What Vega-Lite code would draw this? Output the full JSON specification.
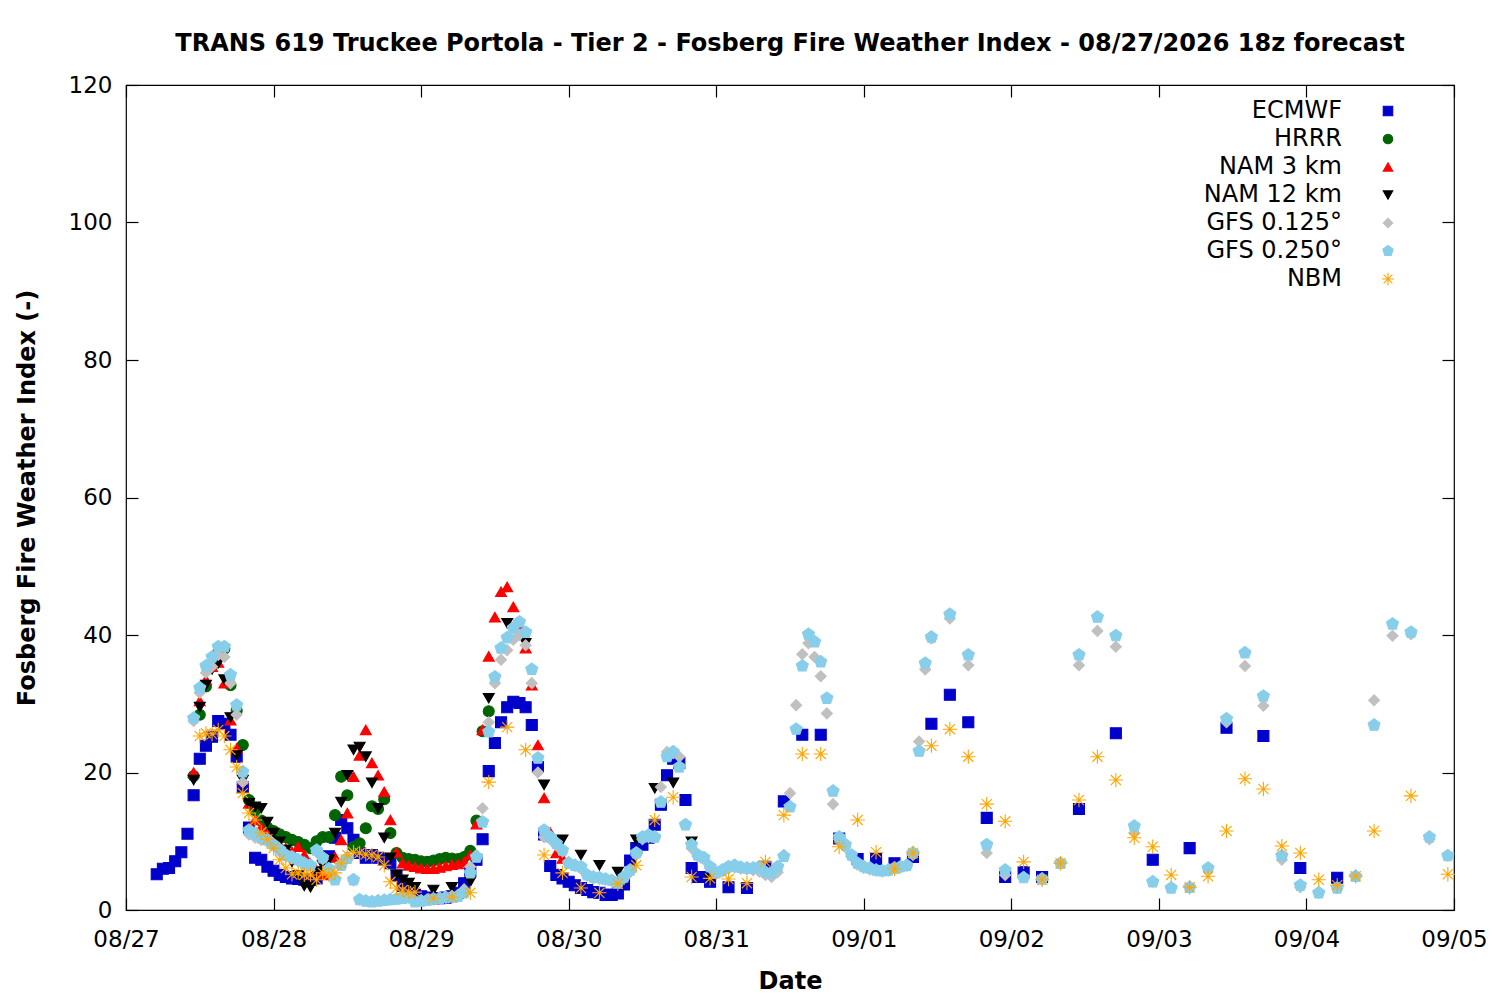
{
  "$schema": "https://vega.github.io/schema/vega-lite/v6.json",
  "autosize": "none",
  "padding": {"left": 126, "top": 85, "right": 46, "bottom": 90},
  "width": 1328,
  "height": 825,
  "background": "white",
  "title": {
    "text": "TRANS 619 Truckee Portola - Tier 2 - Fosberg Fire Weather Index - 08/27/2026 18z forecast",
    "fontSize": 24,
    "fontWeight": "bold",
    "color": "black",
    "offset": 18
  },
  "data": {
    "values": [
      {"model":"ECMWF","hour":5,"fwi":5.2},{"model":"ECMWF","hour":6,"fwi":6.0},{"model":"ECMWF","hour":7,"fwi":6.1},{"model":"ECMWF","hour":8,"fwi":7.1},
      {"model":"ECMWF","hour":9,"fwi":8.4},{"model":"ECMWF","hour":10,"fwi":11.1},{"model":"ECMWF","hour":11,"fwi":16.7},{"model":"ECMWF","hour":12,"fwi":22.0},
      {"model":"ECMWF","hour":13,"fwi":23.9},{"model":"ECMWF","hour":14,"fwi":25.2},{"model":"ECMWF","hour":15,"fwi":27.5},{"model":"ECMWF","hour":16,"fwi":27.1},
      {"model":"ECMWF","hour":17,"fwi":25.5},{"model":"ECMWF","hour":18,"fwi":22.3},{"model":"ECMWF","hour":19,"fwi":17.9},{"model":"ECMWF","hour":20,"fwi":12.0},
      {"model":"ECMWF","hour":21,"fwi":7.6},{"model":"ECMWF","hour":22,"fwi":7.3},{"model":"ECMWF","hour":23,"fwi":6.3},{"model":"ECMWF","hour":24,"fwi":5.7},
      {"model":"ECMWF","hour":25,"fwi":5.1},{"model":"ECMWF","hour":26,"fwi":4.8},{"model":"ECMWF","hour":27,"fwi":4.6},{"model":"ECMWF","hour":28,"fwi":4.5},
      {"model":"ECMWF","hour":29,"fwi":4.4},{"model":"ECMWF","hour":30,"fwi":4.4},{"model":"ECMWF","hour":31,"fwi":4.6},{"model":"ECMWF","hour":32,"fwi":5.5},
      {"model":"ECMWF","hour":33,"fwi":7.8},{"model":"ECMWF","hour":34,"fwi":10.5},{"model":"ECMWF","hour":35,"fwi":13.1},{"model":"ECMWF","hour":36,"fwi":11.9},
      {"model":"ECMWF","hour":37,"fwi":10.2},{"model":"ECMWF","hour":38,"fwi":8.3},{"model":"ECMWF","hour":39,"fwi":7.6},{"model":"ECMWF","hour":40,"fwi":8.0},
      {"model":"ECMWF","hour":41,"fwi":7.6},{"model":"ECMWF","hour":42,"fwi":7.3},{"model":"ECMWF","hour":43,"fwi":6.8},{"model":"ECMWF","hour":44,"fwi":5.0},
      {"model":"ECMWF","hour":45,"fwi":3.5},{"model":"ECMWF","hour":46,"fwi":2.5},{"model":"ECMWF","hour":47,"fwi":2.2},{"model":"ECMWF","hour":48,"fwi":2.0},
      {"model":"ECMWF","hour":49,"fwi":1.8},{"model":"ECMWF","hour":50,"fwi":1.7},{"model":"ECMWF","hour":51,"fwi":1.7},{"model":"ECMWF","hour":52,"fwi":1.8},
      {"model":"ECMWF","hour":53,"fwi":2.0},{"model":"ECMWF","hour":54,"fwi":2.5},{"model":"ECMWF","hour":55,"fwi":3.9},{"model":"ECMWF","hour":56,"fwi":5.8},
      {"model":"ECMWF","hour":57,"fwi":7.3},{"model":"ECMWF","hour":58,"fwi":10.3},{"model":"ECMWF","hour":59,"fwi":20.2},{"model":"ECMWF","hour":60,"fwi":24.3},
      {"model":"ECMWF","hour":61,"fwi":27.3},{"model":"ECMWF","hour":62,"fwi":29.5},{"model":"ECMWF","hour":63,"fwi":30.3},{"model":"ECMWF","hour":64,"fwi":30.1},
      {"model":"ECMWF","hour":65,"fwi":29.5},{"model":"ECMWF","hour":66,"fwi":26.9},{"model":"ECMWF","hour":67,"fwi":20.8},{"model":"ECMWF","hour":68,"fwi":11.0},
      {"model":"ECMWF","hour":69,"fwi":6.4},{"model":"ECMWF","hour":70,"fwi":5.1},{"model":"ECMWF","hour":71,"fwi":4.6},{"model":"ECMWF","hour":72,"fwi":4.1},
      {"model":"ECMWF","hour":73,"fwi":3.6},{"model":"ECMWF","hour":74,"fwi":3.2},{"model":"ECMWF","hour":75,"fwi":2.9},{"model":"ECMWF","hour":76,"fwi":2.6},
      {"model":"ECMWF","hour":77,"fwi":2.5},{"model":"ECMWF","hour":78,"fwi":2.2},{"model":"ECMWF","hour":79,"fwi":2.2},{"model":"ECMWF","hour":80,"fwi":2.4},
      {"model":"ECMWF","hour":81,"fwi":3.7},{"model":"ECMWF","hour":82,"fwi":7.2},{"model":"ECMWF","hour":83,"fwi":9.0},{"model":"ECMWF","hour":84,"fwi":9.5},
      {"model":"ECMWF","hour":85,"fwi":10.5},{"model":"ECMWF","hour":86,"fwi":12.4},{"model":"ECMWF","hour":87,"fwi":15.3},{"model":"ECMWF","hour":88,"fwi":19.6},
      {"model":"ECMWF","hour":89,"fwi":22.0},{"model":"ECMWF","hour":90,"fwi":21.4},{"model":"ECMWF","hour":91,"fwi":16.0},{"model":"ECMWF","hour":92,"fwi":6.1},
      {"model":"ECMWF","hour":93,"fwi":4.8},{"model":"ECMWF","hour":94,"fwi":4.8},{"model":"ECMWF","hour":95,"fwi":4.1},{"model":"ECMWF","hour":98,"fwi":3.3},
      {"model":"ECMWF","hour":101,"fwi":3.2},{"model":"ECMWF","hour":104,"fwi":6.3},{"model":"ECMWF","hour":107,"fwi":15.8},{"model":"ECMWF","hour":110,"fwi":25.5},
      {"model":"ECMWF","hour":113,"fwi":25.5},{"model":"ECMWF","hour":116,"fwi":10.4},{"model":"ECMWF","hour":119,"fwi":7.4},{"model":"ECMWF","hour":122,"fwi":7.4},
      {"model":"ECMWF","hour":125,"fwi":6.8},{"model":"ECMWF","hour":128,"fwi":7.7},{"model":"ECMWF","hour":131,"fwi":27.1},{"model":"ECMWF","hour":134,"fwi":31.3},
      {"model":"ECMWF","hour":137,"fwi":27.3},{"model":"ECMWF","hour":140,"fwi":13.4},{"model":"ECMWF","hour":143,"fwi":4.8},{"model":"ECMWF","hour":146,"fwi":5.5},
      {"model":"ECMWF","hour":149,"fwi":4.8},{"model":"ECMWF","hour":155,"fwi":14.7},{"model":"ECMWF","hour":161,"fwi":25.7},{"model":"ECMWF","hour":167,"fwi":7.3},
      {"model":"ECMWF","hour":173,"fwi":9.0},{"model":"ECMWF","hour":179,"fwi":26.5},{"model":"ECMWF","hour":185,"fwi":25.3},{"model":"ECMWF","hour":191,"fwi":6.1},
      {"model":"ECMWF","hour":197,"fwi":4.7},

      {"model":"HRRR","hour":11,"fwi":19.5},{"model":"HRRR","hour":12,"fwi":28.4},{"model":"HRRR","hour":13,"fwi":32.5},{"model":"HRRR","hour":14,"fwi":35.5},
      {"model":"HRRR","hour":15,"fwi":37.5},{"model":"HRRR","hour":16,"fwi":38.0},{"model":"HRRR","hour":17,"fwi":32.7},{"model":"HRRR","hour":18,"fwi":29.0},
      {"model":"HRRR","hour":19,"fwi":24.0},{"model":"HRRR","hour":20,"fwi":16.0},{"model":"HRRR","hour":21,"fwi":14.5},{"model":"HRRR","hour":22,"fwi":13.0},
      {"model":"HRRR","hour":23,"fwi":12.0},{"model":"HRRR","hour":24,"fwi":11.5},{"model":"HRRR","hour":25,"fwi":11.0},{"model":"HRRR","hour":26,"fwi":10.6},
      {"model":"HRRR","hour":27,"fwi":10.2},{"model":"HRRR","hour":28,"fwi":9.9},{"model":"HRRR","hour":29,"fwi":9.5},{"model":"HRRR","hour":30,"fwi":9.0},
      {"model":"HRRR","hour":31,"fwi":10.0},{"model":"HRRR","hour":32,"fwi":10.6},{"model":"HRRR","hour":33,"fwi":10.6},{"model":"HRRR","hour":34,"fwi":13.8},
      {"model":"HRRR","hour":35,"fwi":19.4},{"model":"HRRR","hour":36,"fwi":16.7},{"model":"HRRR","hour":37,"fwi":9.2},{"model":"HRRR","hour":38,"fwi":9.7},
      {"model":"HRRR","hour":39,"fwi":11.9},{"model":"HRRR","hour":40,"fwi":15.1},{"model":"HRRR","hour":41,"fwi":14.7},{"model":"HRRR","hour":42,"fwi":16.1},
      {"model":"HRRR","hour":43,"fwi":11.2},{"model":"HRRR","hour":44,"fwi":8.3},{"model":"HRRR","hour":45,"fwi":7.6},{"model":"HRRR","hour":46,"fwi":7.4},
      {"model":"HRRR","hour":47,"fwi":7.3},{"model":"HRRR","hour":48,"fwi":7.1},{"model":"HRRR","hour":49,"fwi":7.0},{"model":"HRRR","hour":50,"fwi":7.2},
      {"model":"HRRR","hour":51,"fwi":7.4},{"model":"HRRR","hour":52,"fwi":7.6},{"model":"HRRR","hour":53,"fwi":7.5},{"model":"HRRR","hour":54,"fwi":7.4},
      {"model":"HRRR","hour":55,"fwi":7.7},{"model":"HRRR","hour":56,"fwi":8.6},{"model":"HRRR","hour":57,"fwi":13.0},{"model":"HRRR","hour":58,"fwi":26.0},
      {"model":"HRRR","hour":59,"fwi":28.9},

      {"model":"NAM 3 km","hour":11,"fwi":20.0},{"model":"NAM 3 km","hour":12,"fwi":30.4},{"model":"NAM 3 km","hour":13,"fwi":33.5},{"model":"NAM 3 km","hour":14,"fwi":35.4},
      {"model":"NAM 3 km","hour":15,"fwi":36.0},{"model":"NAM 3 km","hour":16,"fwi":33.0},{"model":"NAM 3 km","hour":17,"fwi":27.6},{"model":"NAM 3 km","hour":18,"fwi":23.5},
      {"model":"NAM 3 km","hour":19,"fwi":19.0},{"model":"NAM 3 km","hour":20,"fwi":15.5},{"model":"NAM 3 km","hour":21,"fwi":13.1},{"model":"NAM 3 km","hour":22,"fwi":12.0},
      {"model":"NAM 3 km","hour":23,"fwi":11.0},{"model":"NAM 3 km","hour":24,"fwi":10.0},{"model":"NAM 3 km","hour":25,"fwi":9.5},{"model":"NAM 3 km","hour":26,"fwi":9.0},
      {"model":"NAM 3 km","hour":27,"fwi":8.5},{"model":"NAM 3 km","hour":28,"fwi":9.2},{"model":"NAM 3 km","hour":29,"fwi":8.0},{"model":"NAM 3 km","hour":30,"fwi":6.8},
      {"model":"NAM 3 km","hour":31,"fwi":5.8},{"model":"NAM 3 km","hour":32,"fwi":5.3},{"model":"NAM 3 km","hour":33,"fwi":5.1},{"model":"NAM 3 km","hour":34,"fwi":7.7},
      {"model":"NAM 3 km","hour":35,"fwi":10.2},{"model":"NAM 3 km","hour":36,"fwi":14.1},{"model":"NAM 3 km","hour":37,"fwi":19.4},{"model":"NAM 3 km","hour":38,"fwi":22.5},
      {"model":"NAM 3 km","hour":39,"fwi":26.2},{"model":"NAM 3 km","hour":40,"fwi":21.4},{"model":"NAM 3 km","hour":41,"fwi":19.6},{"model":"NAM 3 km","hour":42,"fwi":17.2},
      {"model":"NAM 3 km","hour":43,"fwi":13.1},{"model":"NAM 3 km","hour":44,"fwi":8.4},{"model":"NAM 3 km","hour":45,"fwi":6.8},{"model":"NAM 3 km","hour":46,"fwi":6.5},
      {"model":"NAM 3 km","hour":47,"fwi":6.3},{"model":"NAM 3 km","hour":48,"fwi":6.1},{"model":"NAM 3 km","hour":49,"fwi":6.0},{"model":"NAM 3 km","hour":50,"fwi":6.0},
      {"model":"NAM 3 km","hour":51,"fwi":6.2},{"model":"NAM 3 km","hour":52,"fwi":6.4},{"model":"NAM 3 km","hour":53,"fwi":6.6},{"model":"NAM 3 km","hour":54,"fwi":6.7},
      {"model":"NAM 3 km","hour":55,"fwi":7.0},{"model":"NAM 3 km","hour":56,"fwi":8.0},{"model":"NAM 3 km","hour":57,"fwi":12.5},{"model":"NAM 3 km","hour":58,"fwi":26.2},
      {"model":"NAM 3 km","hour":59,"fwi":36.9},{"model":"NAM 3 km","hour":60,"fwi":42.6},{"model":"NAM 3 km","hour":61,"fwi":46.3},{"model":"NAM 3 km","hour":62,"fwi":47.0},
      {"model":"NAM 3 km","hour":63,"fwi":44.1},{"model":"NAM 3 km","hour":64,"fwi":41.2},{"model":"NAM 3 km","hour":65,"fwi":38.1},{"model":"NAM 3 km","hour":66,"fwi":32.7},
      {"model":"NAM 3 km","hour":67,"fwi":24.0},{"model":"NAM 3 km","hour":68,"fwi":16.3},{"model":"NAM 3 km","hour":69,"fwi":11.3},{"model":"NAM 3 km","hour":70,"fwi":8.3},
      {"model":"NAM 3 km","hour":71,"fwi":7.5},

      {"model":"NAM 12 km","hour":11,"fwi":18.9},{"model":"NAM 12 km","hour":12,"fwi":29.5},{"model":"NAM 12 km","hour":13,"fwi":32.7},{"model":"NAM 12 km","hour":14,"fwi":35.0},
      {"model":"NAM 12 km","hour":15,"fwi":35.9},{"model":"NAM 12 km","hour":16,"fwi":33.5},{"model":"NAM 12 km","hour":17,"fwi":28.0},{"model":"NAM 12 km","hour":18,"fwi":22.5},
      {"model":"NAM 12 km","hour":19,"fwi":18.9},{"model":"NAM 12 km","hour":20,"fwi":15.5},{"model":"NAM 12 km","hour":21,"fwi":15.0},{"model":"NAM 12 km","hour":22,"fwi":14.8},
      {"model":"NAM 12 km","hour":23,"fwi":12.8},{"model":"NAM 12 km","hour":24,"fwi":11.2},{"model":"NAM 12 km","hour":25,"fwi":9.9},{"model":"NAM 12 km","hour":26,"fwi":8.7},
      {"model":"NAM 12 km","hour":27,"fwi":7.0},{"model":"NAM 12 km","hour":28,"fwi":5.0},{"model":"NAM 12 km","hour":29,"fwi":3.5},{"model":"NAM 12 km","hour":30,"fwi":3.3},
      {"model":"NAM 12 km","hour":31,"fwi":5.5},{"model":"NAM 12 km","hour":32,"fwi":6.5},{"model":"NAM 12 km","hour":33,"fwi":7.3},{"model":"NAM 12 km","hour":34,"fwi":11.2},
      {"model":"NAM 12 km","hour":35,"fwi":15.7},{"model":"NAM 12 km","hour":36,"fwi":19.6},{"model":"NAM 12 km","hour":37,"fwi":23.3},{"model":"NAM 12 km","hour":38,"fwi":23.7},
      {"model":"NAM 12 km","hour":39,"fwi":22.3},{"model":"NAM 12 km","hour":40,"fwi":18.5},{"model":"NAM 12 km","hour":41,"fwi":14.8},{"model":"NAM 12 km","hour":42,"fwi":10.5},
      {"model":"NAM 12 km","hour":43,"fwi":7.6},{"model":"NAM 12 km","hour":44,"fwi":5.1},{"model":"NAM 12 km","hour":45,"fwi":4.4},{"model":"NAM 12 km","hour":46,"fwi":3.9},
      {"model":"NAM 12 km","hour":47,"fwi":3.3},{"model":"NAM 12 km","hour":50,"fwi":2.9},{"model":"NAM 12 km","hour":53,"fwi":3.3},{"model":"NAM 12 km","hour":56,"fwi":4.1},
      {"model":"NAM 12 km","hour":59,"fwi":30.8},{"model":"NAM 12 km","hour":62,"fwi":41.7},{"model":"NAM 12 km","hour":65,"fwi":38.8},{"model":"NAM 12 km","hour":68,"fwi":18.2},
      {"model":"NAM 12 km","hour":71,"fwi":10.2},{"model":"NAM 12 km","hour":74,"fwi":8.0},{"model":"NAM 12 km","hour":77,"fwi":6.5},{"model":"NAM 12 km","hour":80,"fwi":5.5},
      {"model":"NAM 12 km","hour":83,"fwi":10.2},{"model":"NAM 12 km","hour":86,"fwi":17.7},{"model":"NAM 12 km","hour":89,"fwi":18.5},{"model":"NAM 12 km","hour":92,"fwi":9.9},
      {"model":"NAM 12 km","hour":95,"fwi":4.5},

      {"model":"GFS 0.125°","hour":11,"fwi":27.5},{"model":"GFS 0.125°","hour":12,"fwi":31.6},{"model":"GFS 0.125°","hour":13,"fwi":34.5},{"model":"GFS 0.125°","hour":14,"fwi":35.4},
      {"model":"GFS 0.125°","hour":15,"fwi":37.1},{"model":"GFS 0.125°","hour":16,"fwi":36.8},{"model":"GFS 0.125°","hour":17,"fwi":33.0},{"model":"GFS 0.125°","hour":18,"fwi":28.4},
      {"model":"GFS 0.125°","hour":19,"fwi":18.6},{"model":"GFS 0.125°","hour":20,"fwi":11.0},{"model":"GFS 0.125°","hour":21,"fwi":10.5},{"model":"GFS 0.125°","hour":22,"fwi":10.2},
      {"model":"GFS 0.125°","hour":23,"fwi":9.9},{"model":"GFS 0.125°","hour":24,"fwi":9.3},{"model":"GFS 0.125°","hour":25,"fwi":8.5},{"model":"GFS 0.125°","hour":26,"fwi":7.8},
      {"model":"GFS 0.125°","hour":27,"fwi":7.5},{"model":"GFS 0.125°","hour":28,"fwi":7.1},{"model":"GFS 0.125°","hour":29,"fwi":6.6},{"model":"GFS 0.125°","hour":30,"fwi":6.4},
      {"model":"GFS 0.125°","hour":31,"fwi":8.4},{"model":"GFS 0.125°","hour":32,"fwi":7.4},{"model":"GFS 0.125°","hour":33,"fwi":5.9},{"model":"GFS 0.125°","hour":34,"fwi":4.5},
      {"model":"GFS 0.125°","hour":35,"fwi":6.8},{"model":"GFS 0.125°","hour":36,"fwi":7.7},{"model":"GFS 0.125°","hour":37,"fwi":4.3},{"model":"GFS 0.125°","hour":38,"fwi":1.5},
      {"model":"GFS 0.125°","hour":39,"fwi":1.3},{"model":"GFS 0.125°","hour":40,"fwi":1.3},{"model":"GFS 0.125°","hour":41,"fwi":1.4},{"model":"GFS 0.125°","hour":42,"fwi":1.5},
      {"model":"GFS 0.125°","hour":43,"fwi":1.5},{"model":"GFS 0.125°","hour":44,"fwi":1.6},{"model":"GFS 0.125°","hour":45,"fwi":1.7},{"model":"GFS 0.125°","hour":46,"fwi":1.8},
      {"model":"GFS 0.125°","hour":47,"fwi":1.3},{"model":"GFS 0.125°","hour":48,"fwi":1.4},{"model":"GFS 0.125°","hour":49,"fwi":1.5},{"model":"GFS 0.125°","hour":50,"fwi":1.6},
      {"model":"GFS 0.125°","hour":51,"fwi":1.7},{"model":"GFS 0.125°","hour":52,"fwi":1.8},{"model":"GFS 0.125°","hour":53,"fwi":2.0},{"model":"GFS 0.125°","hour":54,"fwi":2.2},
      {"model":"GFS 0.125°","hour":55,"fwi":3.0},{"model":"GFS 0.125°","hour":56,"fwi":6.3},{"model":"GFS 0.125°","hour":57,"fwi":8.0},{"model":"GFS 0.125°","hour":58,"fwi":14.8},
      {"model":"GFS 0.125°","hour":59,"fwi":27.3},{"model":"GFS 0.125°","hour":60,"fwi":33.0},{"model":"GFS 0.125°","hour":61,"fwi":36.4},{"model":"GFS 0.125°","hour":62,"fwi":37.8},
      {"model":"GFS 0.125°","hour":63,"fwi":39.3},{"model":"GFS 0.125°","hour":64,"fwi":40.0},{"model":"GFS 0.125°","hour":65,"fwi":38.5},{"model":"GFS 0.125°","hour":66,"fwi":33.0},
      {"model":"GFS 0.125°","hour":67,"fwi":20.0},{"model":"GFS 0.125°","hour":68,"fwi":10.6},{"model":"GFS 0.125°","hour":69,"fwi":10.3},{"model":"GFS 0.125°","hour":70,"fwi":9.4},
      {"model":"GFS 0.125°","hour":71,"fwi":8.5},{"model":"GFS 0.125°","hour":72,"fwi":7.0},{"model":"GFS 0.125°","hour":73,"fwi":6.4},{"model":"GFS 0.125°","hour":74,"fwi":6.0},
      {"model":"GFS 0.125°","hour":75,"fwi":5.0},{"model":"GFS 0.125°","hour":76,"fwi":4.6},{"model":"GFS 0.125°","hour":77,"fwi":4.5},{"model":"GFS 0.125°","hour":78,"fwi":4.4},
      {"model":"GFS 0.125°","hour":79,"fwi":4.2},{"model":"GFS 0.125°","hour":80,"fwi":4.0},{"model":"GFS 0.125°","hour":81,"fwi":4.6},{"model":"GFS 0.125°","hour":82,"fwi":5.5},
      {"model":"GFS 0.125°","hour":83,"fwi":8.0},{"model":"GFS 0.125°","hour":84,"fwi":10.3},{"model":"GFS 0.125°","hour":85,"fwi":10.6},{"model":"GFS 0.125°","hour":86,"fwi":10.5},
      {"model":"GFS 0.125°","hour":87,"fwi":17.9},{"model":"GFS 0.125°","hour":88,"fwi":23.0},{"model":"GFS 0.125°","hour":89,"fwi":22.8},{"model":"GFS 0.125°","hour":90,"fwi":22.3},
      {"model":"GFS 0.125°","hour":91,"fwi":12.4},{"model":"GFS 0.125°","hour":92,"fwi":9.0},{"model":"GFS 0.125°","hour":93,"fwi":7.8},{"model":"GFS 0.125°","hour":94,"fwi":7.4},
      {"model":"GFS 0.125°","hour":95,"fwi":6.1},{"model":"GFS 0.125°","hour":96,"fwi":5.3},{"model":"GFS 0.125°","hour":97,"fwi":5.6},{"model":"GFS 0.125°","hour":98,"fwi":6.0},
      {"model":"GFS 0.125°","hour":99,"fwi":6.2},{"model":"GFS 0.125°","hour":100,"fwi":6.0},{"model":"GFS 0.125°","hour":101,"fwi":5.9},{"model":"GFS 0.125°","hour":102,"fwi":5.8},
      {"model":"GFS 0.125°","hour":103,"fwi":5.6},{"model":"GFS 0.125°","hour":104,"fwi":5.1},{"model":"GFS 0.125°","hour":105,"fwi":4.8},{"model":"GFS 0.125°","hour":106,"fwi":5.5},
      {"model":"GFS 0.125°","hour":107,"fwi":8.0},{"model":"GFS 0.125°","hour":108,"fwi":17.0},{"model":"GFS 0.125°","hour":109,"fwi":29.8},{"model":"GFS 0.125°","hour":110,"fwi":37.2},
      {"model":"GFS 0.125°","hour":111,"fwi":38.8},{"model":"GFS 0.125°","hour":112,"fwi":36.8},{"model":"GFS 0.125°","hour":113,"fwi":34.0},{"model":"GFS 0.125°","hour":114,"fwi":28.6},
      {"model":"GFS 0.125°","hour":115,"fwi":15.4},{"model":"GFS 0.125°","hour":116,"fwi":10.3},{"model":"GFS 0.125°","hour":117,"fwi":9.2},{"model":"GFS 0.125°","hour":118,"fwi":7.8},
      {"model":"GFS 0.125°","hour":119,"fwi":6.6},{"model":"GFS 0.125°","hour":120,"fwi":6.1},{"model":"GFS 0.125°","hour":121,"fwi":5.9},{"model":"GFS 0.125°","hour":122,"fwi":5.7},
      {"model":"GFS 0.125°","hour":123,"fwi":5.6},{"model":"GFS 0.125°","hour":124,"fwi":5.7},{"model":"GFS 0.125°","hour":125,"fwi":6.0},{"model":"GFS 0.125°","hour":126,"fwi":6.2},
      {"model":"GFS 0.125°","hour":127,"fwi":6.4},{"model":"GFS 0.125°","hour":128,"fwi":8.0},{"model":"GFS 0.125°","hour":129,"fwi":24.5},{"model":"GFS 0.125°","hour":130,"fwi":35.0},
      {"model":"GFS 0.125°","hour":131,"fwi":39.5},{"model":"GFS 0.125°","hour":134,"fwi":42.4},{"model":"GFS 0.125°","hour":137,"fwi":35.6},{"model":"GFS 0.125°","hour":140,"fwi":8.3},
      {"model":"GFS 0.125°","hour":143,"fwi":5.1},{"model":"GFS 0.125°","hour":146,"fwi":4.8},{"model":"GFS 0.125°","hour":149,"fwi":4.4},{"model":"GFS 0.125°","hour":152,"fwi":6.8},
      {"model":"GFS 0.125°","hour":155,"fwi":35.6},{"model":"GFS 0.125°","hour":158,"fwi":40.6},{"model":"GFS 0.125°","hour":161,"fwi":38.3},{"model":"GFS 0.125°","hour":164,"fwi":11.2},
      {"model":"GFS 0.125°","hour":167,"fwi":4.1},{"model":"GFS 0.125°","hour":170,"fwi":3.2},{"model":"GFS 0.125°","hour":173,"fwi":3.2},{"model":"GFS 0.125°","hour":176,"fwi":6.1},
      {"model":"GFS 0.125°","hour":179,"fwi":27.3},{"model":"GFS 0.125°","hour":182,"fwi":35.5},{"model":"GFS 0.125°","hour":185,"fwi":29.7},{"model":"GFS 0.125°","hour":188,"fwi":7.3},
      {"model":"GFS 0.125°","hour":191,"fwi":3.3},{"model":"GFS 0.125°","hour":194,"fwi":2.5},{"model":"GFS 0.125°","hour":197,"fwi":3.2},{"model":"GFS 0.125°","hour":200,"fwi":4.9},
      {"model":"GFS 0.125°","hour":203,"fwi":30.5},{"model":"GFS 0.125°","hour":206,"fwi":39.9},{"model":"GFS 0.125°","hour":209,"fwi":40.1},{"model":"GFS 0.125°","hour":212,"fwi":10.3},
      {"model":"GFS 0.125°","hour":215,"fwi":7.9},

      {"model":"GFS 0.250°","hour":11,"fwi":27.9},{"model":"GFS 0.250°","hour":12,"fwi":32.3},{"model":"GFS 0.250°","hour":13,"fwi":35.5},{"model":"GFS 0.250°","hour":14,"fwi":36.8},
      {"model":"GFS 0.250°","hour":15,"fwi":38.3},{"model":"GFS 0.250°","hour":16,"fwi":38.3},{"model":"GFS 0.250°","hour":17,"fwi":34.2},{"model":"GFS 0.250°","hour":18,"fwi":29.8},
      {"model":"GFS 0.250°","hour":19,"fwi":20.1},{"model":"GFS 0.250°","hour":20,"fwi":11.6},{"model":"GFS 0.250°","hour":21,"fwi":11.0},{"model":"GFS 0.250°","hour":22,"fwi":10.5},
      {"model":"GFS 0.250°","hour":23,"fwi":10.2},{"model":"GFS 0.250°","hour":24,"fwi":9.5},{"model":"GFS 0.250°","hour":25,"fwi":8.8},{"model":"GFS 0.250°","hour":26,"fwi":8.0},
      {"model":"GFS 0.250°","hour":27,"fwi":7.7},{"model":"GFS 0.250°","hour":28,"fwi":7.3},{"model":"GFS 0.250°","hour":29,"fwi":6.8},{"model":"GFS 0.250°","hour":30,"fwi":6.5},
      {"model":"GFS 0.250°","hour":31,"fwi":8.7},{"model":"GFS 0.250°","hour":32,"fwi":7.6},{"model":"GFS 0.250°","hour":33,"fwi":6.0},{"model":"GFS 0.250°","hour":34,"fwi":4.4},
      {"model":"GFS 0.250°","hour":35,"fwi":6.5},{"model":"GFS 0.250°","hour":36,"fwi":7.5},{"model":"GFS 0.250°","hour":37,"fwi":4.4},{"model":"GFS 0.250°","hour":38,"fwi":1.5},
      {"model":"GFS 0.250°","hour":39,"fwi":1.3},{"model":"GFS 0.250°","hour":40,"fwi":1.2},{"model":"GFS 0.250°","hour":41,"fwi":1.3},{"model":"GFS 0.250°","hour":42,"fwi":1.4},
      {"model":"GFS 0.250°","hour":43,"fwi":1.5},{"model":"GFS 0.250°","hour":44,"fwi":1.6},{"model":"GFS 0.250°","hour":45,"fwi":1.7},{"model":"GFS 0.250°","hour":46,"fwi":1.8},
      {"model":"GFS 0.250°","hour":47,"fwi":1.2},{"model":"GFS 0.250°","hour":48,"fwi":1.3},{"model":"GFS 0.250°","hour":49,"fwi":1.4},{"model":"GFS 0.250°","hour":50,"fwi":1.6},
      {"model":"GFS 0.250°","hour":51,"fwi":1.7},{"model":"GFS 0.250°","hour":52,"fwi":1.8},{"model":"GFS 0.250°","hour":53,"fwi":1.9},{"model":"GFS 0.250°","hour":54,"fwi":2.0},
      {"model":"GFS 0.250°","hour":55,"fwi":2.5},{"model":"GFS 0.250°","hour":56,"fwi":5.4},{"model":"GFS 0.250°","hour":57,"fwi":7.7},{"model":"GFS 0.250°","hour":58,"fwi":12.8},
      {"model":"GFS 0.250°","hour":59,"fwi":25.9},{"model":"GFS 0.250°","hour":60,"fwi":33.9},{"model":"GFS 0.250°","hour":61,"fwi":38.1},{"model":"GFS 0.250°","hour":62,"fwi":39.6},
      {"model":"GFS 0.250°","hour":63,"fwi":41.0},{"model":"GFS 0.250°","hour":64,"fwi":41.9},{"model":"GFS 0.250°","hour":65,"fwi":40.4},{"model":"GFS 0.250°","hour":66,"fwi":35.0},
      {"model":"GFS 0.250°","hour":67,"fwi":22.1},{"model":"GFS 0.250°","hour":68,"fwi":11.6},{"model":"GFS 0.250°","hour":69,"fwi":10.6},{"model":"GFS 0.250°","hour":70,"fwi":9.7},
      {"model":"GFS 0.250°","hour":71,"fwi":8.7},{"model":"GFS 0.250°","hour":72,"fwi":6.8},{"model":"GFS 0.250°","hour":73,"fwi":6.5},{"model":"GFS 0.250°","hour":74,"fwi":6.3},
      {"model":"GFS 0.250°","hour":75,"fwi":5.1},{"model":"GFS 0.250°","hour":76,"fwi":4.8},{"model":"GFS 0.250°","hour":77,"fwi":4.7},{"model":"GFS 0.250°","hour":78,"fwi":4.5},
      {"model":"GFS 0.250°","hour":79,"fwi":4.3},{"model":"GFS 0.250°","hour":80,"fwi":3.9},{"model":"GFS 0.250°","hour":81,"fwi":4.8},{"model":"GFS 0.250°","hour":82,"fwi":5.8},
      {"model":"GFS 0.250°","hour":83,"fwi":8.3},{"model":"GFS 0.250°","hour":84,"fwi":10.6},{"model":"GFS 0.250°","hour":85,"fwi":10.9},{"model":"GFS 0.250°","hour":86,"fwi":10.6},
      {"model":"GFS 0.250°","hour":87,"fwi":15.7},{"model":"GFS 0.250°","hour":88,"fwi":22.3},{"model":"GFS 0.250°","hour":89,"fwi":23.0},{"model":"GFS 0.250°","hour":90,"fwi":20.8},
      {"model":"GFS 0.250°","hour":91,"fwi":12.4},{"model":"GFS 0.250°","hour":92,"fwi":9.5},{"model":"GFS 0.250°","hour":93,"fwi":8.0},{"model":"GFS 0.250°","hour":94,"fwi":7.6},
      {"model":"GFS 0.250°","hour":95,"fwi":6.3},{"model":"GFS 0.250°","hour":96,"fwi":5.4},{"model":"GFS 0.250°","hour":97,"fwi":5.8},{"model":"GFS 0.250°","hour":98,"fwi":6.3},
      {"model":"GFS 0.250°","hour":99,"fwi":6.5},{"model":"GFS 0.250°","hour":100,"fwi":6.2},{"model":"GFS 0.250°","hour":101,"fwi":6.1},{"model":"GFS 0.250°","hour":102,"fwi":6.1},
      {"model":"GFS 0.250°","hour":103,"fwi":6.3},{"model":"GFS 0.250°","hour":104,"fwi":5.5},{"model":"GFS 0.250°","hour":105,"fwi":5.4},{"model":"GFS 0.250°","hour":106,"fwi":6.3},
      {"model":"GFS 0.250°","hour":107,"fwi":7.8},{"model":"GFS 0.250°","hour":108,"fwi":15.0},{"model":"GFS 0.250°","hour":109,"fwi":26.3},{"model":"GFS 0.250°","hour":110,"fwi":35.5},
      {"model":"GFS 0.250°","hour":111,"fwi":40.1},{"model":"GFS 0.250°","hour":112,"fwi":39.0},{"model":"GFS 0.250°","hour":113,"fwi":36.1},{"model":"GFS 0.250°","hour":114,"fwi":30.8},
      {"model":"GFS 0.250°","hour":115,"fwi":17.3},{"model":"GFS 0.250°","hour":116,"fwi":10.6},{"model":"GFS 0.250°","hour":117,"fwi":9.5},{"model":"GFS 0.250°","hour":118,"fwi":8.0},
      {"model":"GFS 0.250°","hour":119,"fwi":6.8},{"model":"GFS 0.250°","hour":120,"fwi":6.3},{"model":"GFS 0.250°","hour":121,"fwi":6.1},{"model":"GFS 0.250°","hour":122,"fwi":5.8},
      {"model":"GFS 0.250°","hour":123,"fwi":5.7},{"model":"GFS 0.250°","hour":124,"fwi":5.8},{"model":"GFS 0.250°","hour":125,"fwi":6.1},{"model":"GFS 0.250°","hour":126,"fwi":6.3},
      {"model":"GFS 0.250°","hour":127,"fwi":6.5},{"model":"GFS 0.250°","hour":128,"fwi":8.3},{"model":"GFS 0.250°","hour":129,"fwi":23.1},{"model":"GFS 0.250°","hour":130,"fwi":35.9},
      {"model":"GFS 0.250°","hour":131,"fwi":39.7},{"model":"GFS 0.250°","hour":134,"fwi":43.0},{"model":"GFS 0.250°","hour":137,"fwi":37.1},{"model":"GFS 0.250°","hour":140,"fwi":9.5},
      {"model":"GFS 0.250°","hour":143,"fwi":5.8},{"model":"GFS 0.250°","hour":146,"fwi":4.7},{"model":"GFS 0.250°","hour":149,"fwi":4.5},{"model":"GFS 0.250°","hour":152,"fwi":6.8},
      {"model":"GFS 0.250°","hour":155,"fwi":37.1},{"model":"GFS 0.250°","hour":158,"fwi":42.6},{"model":"GFS 0.250°","hour":161,"fwi":39.9},{"model":"GFS 0.250°","hour":164,"fwi":12.2},
      {"model":"GFS 0.250°","hour":167,"fwi":4.1},{"model":"GFS 0.250°","hour":170,"fwi":3.2},{"model":"GFS 0.250°","hour":173,"fwi":3.3},{"model":"GFS 0.250°","hour":176,"fwi":6.1},
      {"model":"GFS 0.250°","hour":179,"fwi":27.8},{"model":"GFS 0.250°","hour":182,"fwi":37.4},{"model":"GFS 0.250°","hour":185,"fwi":31.1},{"model":"GFS 0.250°","hour":188,"fwi":7.9},
      {"model":"GFS 0.250°","hour":191,"fwi":3.6},{"model":"GFS 0.250°","hour":194,"fwi":2.5},{"model":"GFS 0.250°","hour":197,"fwi":3.2},{"model":"GFS 0.250°","hour":200,"fwi":4.9},
      {"model":"GFS 0.250°","hour":203,"fwi":26.9},{"model":"GFS 0.250°","hour":206,"fwi":41.6},{"model":"GFS 0.250°","hour":209,"fwi":40.4},{"model":"GFS 0.250°","hour":212,"fwi":10.6},
      {"model":"GFS 0.250°","hour":215,"fwi":7.9},

      {"model":"NBM","hour":12,"fwi":25.3},{"model":"NBM","hour":13,"fwi":25.7},{"model":"NBM","hour":14,"fwi":25.6},{"model":"NBM","hour":15,"fwi":26.2},
      {"model":"NBM","hour":16,"fwi":25.3},{"model":"NBM","hour":17,"fwi":23.3},{"model":"NBM","hour":18,"fwi":20.8},{"model":"NBM","hour":19,"fwi":17.0},
      {"model":"NBM","hour":20,"fwi":14.1},{"model":"NBM","hour":21,"fwi":13.1},{"model":"NBM","hour":22,"fwi":11.3},{"model":"NBM","hour":23,"fwi":10.3},
      {"model":"NBM","hour":24,"fwi":9.0},{"model":"NBM","hour":25,"fwi":7.3},{"model":"NBM","hour":26,"fwi":6.1},{"model":"NBM","hour":27,"fwi":5.2},
      {"model":"NBM","hour":28,"fwi":5.4},{"model":"NBM","hour":29,"fwi":5.1},{"model":"NBM","hour":30,"fwi":5.1},{"model":"NBM","hour":31,"fwi":4.4},
      {"model":"NBM","hour":32,"fwi":5.4},{"model":"NBM","hour":33,"fwi":5.1},{"model":"NBM","hour":34,"fwi":5.4},{"model":"NBM","hour":35,"fwi":6.8},
      {"model":"NBM","hour":36,"fwi":8.0},{"model":"NBM","hour":37,"fwi":8.4},{"model":"NBM","hour":38,"fwi":8.3},{"model":"NBM","hour":39,"fwi":8.1},
      {"model":"NBM","hour":40,"fwi":8.0},{"model":"NBM","hour":41,"fwi":7.7},{"model":"NBM","hour":42,"fwi":6.5},{"model":"NBM","hour":43,"fwi":4.1},
      {"model":"NBM","hour":44,"fwi":3.2},{"model":"NBM","hour":45,"fwi":2.9},{"model":"NBM","hour":46,"fwi":2.6},{"model":"NBM","hour":47,"fwi":2.6},
      {"model":"NBM","hour":50,"fwi":1.7},{"model":"NBM","hour":53,"fwi":1.9},{"model":"NBM","hour":56,"fwi":2.5},{"model":"NBM","hour":59,"fwi":18.6},
      {"model":"NBM","hour":62,"fwi":26.6},{"model":"NBM","hour":65,"fwi":23.3},{"model":"NBM","hour":68,"fwi":8.0},{"model":"NBM","hour":71,"fwi":5.4},
      {"model":"NBM","hour":74,"fwi":3.2},{"model":"NBM","hour":77,"fwi":2.5},{"model":"NBM","hour":80,"fwi":3.8},{"model":"NBM","hour":83,"fwi":6.5},
      {"model":"NBM","hour":86,"fwi":13.1},{"model":"NBM","hour":89,"fwi":16.4},{"model":"NBM","hour":92,"fwi":4.8},{"model":"NBM","hour":95,"fwi":4.6},
      {"model":"NBM","hour":98,"fwi":4.5},{"model":"NBM","hour":101,"fwi":3.9},{"model":"NBM","hour":104,"fwi":7.0},{"model":"NBM","hour":107,"fwi":13.8},
      {"model":"NBM","hour":110,"fwi":22.7},{"model":"NBM","hour":113,"fwi":22.7},{"model":"NBM","hour":116,"fwi":9.2},{"model":"NBM","hour":119,"fwi":13.1},
      {"model":"NBM","hour":122,"fwi":8.4},{"model":"NBM","hour":125,"fwi":6.0},{"model":"NBM","hour":128,"fwi":8.3},{"model":"NBM","hour":131,"fwi":23.9},
      {"model":"NBM","hour":134,"fwi":26.3},{"model":"NBM","hour":137,"fwi":22.3},{"model":"NBM","hour":140,"fwi":15.4},{"model":"NBM","hour":143,"fwi":12.9},
      {"model":"NBM","hour":146,"fwi":7.0},{"model":"NBM","hour":149,"fwi":4.4},{"model":"NBM","hour":152,"fwi":6.8},{"model":"NBM","hour":155,"fwi":16.0},
      {"model":"NBM","hour":158,"fwi":22.3},{"model":"NBM","hour":161,"fwi":18.9},{"model":"NBM","hour":164,"fwi":10.5},{"model":"NBM","hour":167,"fwi":9.2},
      {"model":"NBM","hour":170,"fwi":5.1},{"model":"NBM","hour":173,"fwi":3.3},{"model":"NBM","hour":176,"fwi":4.9},{"model":"NBM","hour":179,"fwi":11.5},
      {"model":"NBM","hour":182,"fwi":19.1},{"model":"NBM","hour":185,"fwi":17.6},{"model":"NBM","hour":188,"fwi":9.3},{"model":"NBM","hour":191,"fwi":8.3},
      {"model":"NBM","hour":194,"fwi":4.4},{"model":"NBM","hour":197,"fwi":3.6},{"model":"NBM","hour":200,"fwi":4.9},{"model":"NBM","hour":203,"fwi":11.5},
      {"model":"NBM","hour":209,"fwi":16.6},{"model":"NBM","hour":215,"fwi":5.2}
    ]
  },
  "layer": [
    {
      "mark": {"type": "point", "filled": true, "size": 121, "strokeWidth": 1.1, "opacity": 1},
      "encoding": {
        "x": {
          "field": "hour", "type": "quantitative",
          "scale": {"domain": [0, 216], "nice": false, "zero": false},
          "axis": {
            "orient": "bottom", "title": "Date",
            "values": [0, 24, 48, 72, 96, 120, 144, 168, 192, 216],
            "labelExpr": "['08/27','08/28','08/29','08/30','08/31','09/01','09/02','09/03','09/04','09/05'][round(datum.value / 24)]",
            "labelFlush": false, "labelOverlap": false, "labelBound": false,
            "tickSize": -12, "labelPadding": 30, "titlePadding": 18
          }
        },
        "y": {
          "field": "fwi", "type": "quantitative",
          "scale": {"domain": [0, 120], "nice": false},
          "axis": {
            "orient": "left", "title": "Fosberg Fire Weather Index (-)",
            "values": [0, 20, 40, 60, 80, 100, 120],
            "tickSize": -12, "labelPadding": 26, "titlePadding": 29
          }
        },
        "shape": {
          "field": "model", "type": "nominal",
          "scale": {
            "domain": ["ECMWF", "HRRR", "NAM 3 km", "NAM 12 km", "GFS 0.125°", "GFS 0.250°", "NBM"],
            "range": ["square", "circle", "triangle-up", "triangle-down", "diamond",
                      "M0,-1.15L1.094,-0.355L0.676,0.93L-0.676,0.93L-1.094,-0.355Z",
                      "M-1.3,0L1.3,0M0,-1.3L0,1.3M-0.92,-0.92L0.92,0.92M-0.92,0.92L0.92,-0.92"]
          },
          "legend": {
            "title": null, "orient": "none", "legendX": 1250, "legendY": 14,
            "labelAlign": "right", "labelOffset": -58, "labelFontSize": 24,
            "labelColor": "black", "symbolSize": 90, "symbolStrokeWidth": 1.1,
            "rowPadding": 4, "padding": 0
          }
        },
        "fill": {
          "field": "model", "type": "nominal",
          "scale": {
            "domain": ["ECMWF", "HRRR", "NAM 3 km", "NAM 12 km", "GFS 0.125°", "GFS 0.250°", "NBM"],
            "range": ["#0000cc", "#006400", "#ff0000", "#000000", "#c0c0c0", "#87ceeb", "#ffa500"]
          },
          "legend": {"title": null}
        },
        "stroke": {
          "field": "model", "type": "nominal",
          "scale": {
            "domain": ["ECMWF", "HRRR", "NAM 3 km", "NAM 12 km", "GFS 0.125°", "GFS 0.250°", "NBM"],
            "range": ["#0000cc", "#006400", "#ff0000", "#000000", "#c0c0c0", "#87ceeb", "#ffa500"]
          },
          "legend": {"title": null}
        }
      }
    },
    {
      "mark": {"type": "point", "opacity": 0},
      "encoding": {
        "x": {
          "field": "hour", "type": "quantitative",
          "axis": {"orient": "top", "title": null, "labels": false, "tickSize": -12,
                   "values": [0, 24, 48, 72, 96, 120, 144, 168, 192, 216]}
        },
        "y": {
          "field": "fwi", "type": "quantitative",
          "axis": {"orient": "right", "title": null, "labels": false, "tickSize": -12,
                   "values": [0, 20, 40, 60, 80, 100, 120]}
        }
      }
    }
  ],
  "resolve": {"axis": {"x": "independent", "y": "independent"}},
  "config": {
    "font": "DejaVu Sans",
    "view": {"stroke": "black", "strokeWidth": 1.2},
    "axis": {
      "domain": false, "grid": false,
      "tickColor": "black", "tickWidth": 1.2,
      "labelColor": "black", "labelFontSize": 23,
      "titleColor": "black", "titleFontSize": 24, "titleFontWeight": "bold"
    },
    "legend": {"labelFont": "DejaVu Sans"}
  }
}
